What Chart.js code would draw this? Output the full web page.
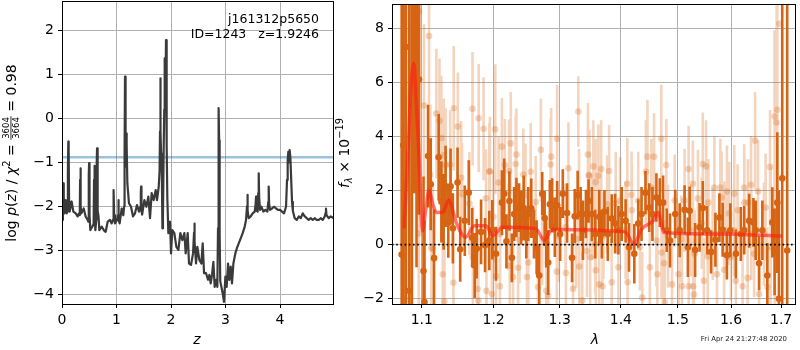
<!DOCTYPE html>
<html>
<head>
<meta charset="utf-8">
<script src="https://cdn.jsdelivr.net/npm/chart.js@4.4.1/dist/chart.umd.min.js"></script>
<style>
  html, body { margin: 0; padding: 0; background: #fff; }
  #wrap { position: relative; width: 800px; height: 350px; }
  #wrap canvas { position: absolute; left: 0; top: 0; }
</style>
</head>
<body>
<div id="wrap">
  <canvas id="pz" width="800" height="350"></canvas>
  <canvas id="spec" width="800" height="350"></canvas>
</div>
<script>
// ---------- redshift probability panel ----------
const zGrid = [0.006,0.016,0.024,0.032,0.043,0.067,0.086,0.100,0.108,0.116,0.122,0.130,0.141,0.177,0.208,0.251,0.287,0.312,0.326,0.332,0.338,0.346,0.355,0.398,0.434,0.471,0.485,0.491,0.497,0.505,0.520,0.557,0.580,0.588,0.594,0.602,0.612,0.630,0.637,0.643,0.650,0.658,0.670,0.685,0.728,0.765,0.801,0.838,0.881,0.911,0.938,0.944,0.949,0.956,0.972,1.009,1.028,1.034,1.042,1.058,1.095,1.125,1.140,1.148,1.156,1.163,1.170,1.178,1.186,1.199,1.229,1.266,1.303,1.339,1.376,1.413,1.440,1.446,1.451,1.458,1.470,1.511,1.547,1.584,1.615,1.645,1.682,1.719,1.743,1.775,1.790,1.798,1.804,1.810,1.818,1.829,1.842,1.852,1.865,1.876,1.884,1.893,1.901,1.908,1.916,1.924,1.932,1.951,1.982,2.000,2.024,2.061,2.098,2.135,2.171,2.208,2.245,2.269,2.306,2.330,2.367,2.404,2.422,2.428,2.436,2.459,2.483,2.520,2.557,2.581,2.606,2.642,2.679,2.704,2.728,2.752,2.777,2.801,2.826,2.850,2.862,2.870,2.876,2.883,2.892,2.903,2.924,2.948,2.972,2.997,3.021,3.046,3.070,3.095,3.119,3.144,3.180,3.217,3.266,3.315,3.352,3.376,3.394,3.401,3.409,3.425,3.462,3.498,3.535,3.552,3.560,3.568,3.590,3.600,3.609,3.617,3.633,3.658,3.694,3.731,3.768,3.785,3.792,3.800,3.817,3.853,3.890,3.927,3.963,4.000,4.037,4.073,4.110,4.128,4.140,4.152,4.165,4.177,4.190,4.205,4.220,4.235,4.269,4.306,4.343,4.380,4.416,4.453,4.490,4.526,4.563,4.600,4.636,4.673,4.710,4.746,4.783,4.820,4.836,4.843,4.852,4.893,4.930,4.990];
const logPz = [-2.31,-1.60,-1.48,-2.10,-2.16,-1.86,-2.16,-2.12,-1.20,-0.53,-0.70,-1.90,-2.12,-1.89,-2.12,-2.16,-2.23,-2.16,-2.20,-1.40,-1.14,-2.00,-2.16,-2.05,-2.23,-2.31,-2.35,-1.30,-1.02,-2.20,-2.54,-2.46,-2.40,-1.40,-1.08,-2.20,-2.54,-2.30,-1.00,-0.68,-1.30,-2.10,-2.23,-2.54,-2.46,-2.54,-2.58,-2.35,-2.31,-2.39,-2.30,-1.80,-1.63,-2.20,-2.39,-2.31,-2.20,-1.86,-2.30,-2.39,-2.05,-2.20,-2.00,-0.80,0.95,-0.60,-1.10,-0.34,-0.60,-1.48,-1.93,-2.01,-2.23,-2.16,-1.97,-2.12,-2.00,-1.70,-1.55,-2.10,-2.19,-1.86,-2.01,-1.78,-2.27,-1.70,-1.86,-1.63,-1.86,-1.55,-1.20,-0.30,0.91,-0.30,-0.80,-0.95,-2.50,-2.30,-0.72,0.20,1.36,0.40,0.90,1.78,1.00,-0.60,-1.80,-2.61,-2.35,-3.07,-2.54,-2.61,-2.92,-2.99,-2.61,-2.77,-2.61,-3.07,-2.61,-3.30,-3.33,-3.07,-2.60,-2.39,-2.80,-3.30,-2.92,-3.22,-3.30,-2.84,-3.52,-3.52,-3.67,-3.56,-3.75,-3.56,-3.26,-3.83,-3.67,-3.83,-2.50,-0.40,0.23,-0.50,-2.60,-3.70,-3.83,-3.98,-4.17,-3.60,-3.83,-3.30,-3.67,-3.37,-3.75,-3.30,-3.07,-2.92,-2.77,-2.61,-2.46,-2.31,-2.00,-1.74,-2.10,-2.27,-2.23,-2.16,-2.12,-1.95,-1.78,-2.10,-2.12,-1.70,-1.25,-1.80,-2.08,-2.01,-2.12,-2.08,-2.12,-1.90,-1.55,-1.95,-2.08,-2.05,-2.01,-2.05,-2.08,-2.08,-2.12,-2.16,-2.01,-1.40,-0.95,-0.76,-1.00,-0.72,-0.90,-1.40,-1.90,-2.10,-2.27,-2.31,-2.23,-2.27,-2.16,-2.23,-2.27,-2.31,-2.27,-2.31,-2.27,-2.31,-2.31,-2.27,-2.31,-2.23,-2.15,-2.05,-2.20,-2.27,-2.23,-2.27];
const chi2Level = -0.886;
const zLimits = [0, 4.99];
const logPLimits = [-4.22, 2.666];
const zTicks = [0, 1, 2, 3, 4];
const logPTicks = [-4, -3, -2, -1, 0, 1, 2];

// ---------- 1D spectrum panel ----------
const darkLam = [1.0735,1.0755,1.0790,1.0833,1.0869,1.0899,1.0930,1.0964,1.1023,1.1036,1.1084,1.1120,1.1164,1.1227,1.1264,1.1295,1.1322,1.1359,1.1390,1.1422,1.1487,1.1524,1.1588,1.1644,1.1692,1.1728,1.1757,1.1819,1.1876,1.1937,1.1981,1.2034,1.2121,1.2155,1.2188,1.2232,1.2268,1.2302,1.2336,1.2376,1.2406,1.2446,1.2485,1.2515,1.2560,1.2601,1.2642,1.2682,1.2728,1.2765,1.2789,1.2820,1.2846,1.2882,1.2924,1.2960,1.3007,1.3049,1.3117,1.3196,1.3239,1.3286,1.3334,1.3371,1.3420,1.3463,1.3517,1.3572,1.3638,1.3681,1.3725,1.3780,1.3846,1.3903,1.3958,1.4014,1.4081,1.4139,1.4230,1.4298,1.4355,1.4424,1.4489,1.4546,1.4616,1.4676,1.4735,1.4800,1.4859,1.4954,1.5034,1.5124,1.5184,1.5216,1.5318,1.5400,1.5461,1.5541,1.5616,1.5699,1.5775,1.5837,1.5919,1.5984,1.6093,1.6190,1.6256,1.6354,1.6439,1.6484,1.6552,1.6618,1.6718,1.6819,1.6866,1.6921,1.6955,1.7023,1.7125];
const darkFlux = [-0.37,3.67,7.30,-1.71,5.16,6.90,5.16,6.10,-0.98,-2.12,3.27,2.23,-0.50,3.23,1.58,1.21,2.15,0.81,2.15,0.60,2.29,-0.17,0.88,1.92,0.25,-0.77,-0.15,0.47,-0.02,0.15,0.55,-0.34,1.55,1.88,0.12,1.61,-0.49,1.13,1.37,1.37,1.00,1.35,0.39,1.13,1.34,0.39,-0.10,-1.14,1.88,0.98,0.05,-0.66,1.49,1.45,0.64,1.45,0.39,1.88,1.17,-0.49,1.05,1.83,1.13,0.53,1.13,1.61,1.13,0.39,1.03,0.39,1.22,0.39,0.96,0.78,0.53,1.13,0.88,-0.10,-0.34,0.78,1.13,1.92,1.37,1.13,1.74,1.55,1.55,0.53,0.15,1.13,0.53,1.29,-0.10,1.25,-0.20,0.64,1.35,0.53,-0.27,0.18,1.00,0.55,-0.39,0.53,-0.34,0.39,0.53,0.88,0.82,0.53,-0.69,0.53,-1.14,0.82,-0.27,1.55,-2.00,2.45,-0.22];
const darkErr = [12,12,12,12,9,5,6,5,3.5,3,1.9,1.7,1.8,1.6,1.5,1.4,1.5,1.3,1.4,1.3,1.3,1.2,1.3,1.2,1.1,1.2,1.1,1.2,1.0,1.1,1.1,1.0,1.2,1.3,1.0,1.1,0.9,1.0,1.1,0.9,1.0,1.2,0.9,1.0,1.1,0.9,1.0,1.1,0.8,1.0,0.9,1.2,0.9,1.0,1.1,0.9,1.0,0.9,1.1,0.9,1.0,0.9,1.0,1.1,0.9,0.8,1.0,0.9,1.0,0.9,0.8,1.0,0.9,1.1,0.9,1.0,0.8,0.9,1.1,0.9,1.0,0.8,0.9,1.0,0.9,0.9,1.0,0.8,1.0,0.9,1.0,0.9,1.1,0.9,1.0,0.9,1.0,0.9,0.8,1.0,0.9,1.0,0.9,1.0,0.9,1.0,0.9,1.0,0.9,1.1,1.0,1.1,1.2,1.3,1.6,2.6,4,12,12];

const faintLam = [1.0766,1.0960,1.0964,1.1029,1.1097,1.1115,1.1128,1.1149,1.1196,1.1238,1.1264,1.1284,1.1297,1.1306,1.1322,1.1385,1.1430,1.1434,1.1491,1.1537,1.1550,1.1653,1.1697,1.1702,1.1768,1.1780,1.1785,1.1855,1.1890,1.1896,1.1937,1.1946,1.1975,1.1997,1.2024,1.2034,1.2072,1.2092,1.2096,1.2121,1.2165,1.2217,1.2227,1.2237,1.2252,1.2286,1.2325,1.2336,1.2361,1.2383,1.2440,1.2473,1.2495,1.2515,1.2551,1.2627,1.2662,1.2707,1.2728,1.2789,1.2820,1.2857,1.2866,1.2955,1.2960,1.2987,1.3092,1.3098,1.3138,1.3212,1.3265,1.3297,1.3308,1.3312,1.3361,1.3437,1.3452,1.3463,1.3478,1.3490,1.3526,1.3541,1.3572,1.3578,1.3581,1.3624,1.3638,1.3670,1.3692,1.3708,1.3770,1.3802,1.3846,1.3913,1.3958,1.3987,1.4081,1.4110,1.4115,1.4183,1.4188,1.4298,1.4327,1.4368,1.4431,1.4458,1.4500,1.4527,1.4575,1.4616,1.4633,1.4703,1.4707,1.4752,1.4763,1.4793,1.4823,1.4895,1.4943,1.5016,1.5063,1.5076,1.5124,1.5197,1.5200,1.5245,1.5276,1.5280,1.5295,1.5309,1.5370,1.5442,1.5461,1.5480,1.5523,1.5554,1.5567,1.5648,1.5680,1.5729,1.5793,1.5818,1.5866,1.5870,1.5919,1.5965,1.5996,1.6058,1.6062,1.6093,1.6126,1.6225,1.6256,1.6260,1.6324,1.6330,1.6391,1.6396,1.6453,1.6472,1.6531,1.6552,1.6650,1.6684,1.6718,1.6773,1.6786,1.6866,1.6870,1.6907,1.6921,1.6962];
const faintFlux = [4.33,0.41,8.61,5.14,7.71,2.57,-0.12,-0.17,4.84,4.58,3.94,-1.10,3.30,-2.10,2.94,2.96,-1.41,5.04,4.36,2.47,1.86,1.52,5.02,-0.47,-1.64,-2.07,4.67,4.28,1.71,-1.71,2.69,2.72,-1.83,1.03,4.26,-1.17,2.29,-1.54,0.39,3.62,2.94,0.64,2.72,-0.77,3.74,-1.20,2.98,3.33,-0.86,0.17,2.59,1.84,-1.20,-0.66,2.69,1.57,-1.57,3.50,0.20,-1.71,-1.88,2.96,3.25,-1.00,3.91,0.31,0.64,-1.05,2.82,-1.63,0.21,4.92,1.84,-0.81,-2.07,-0.24,3.33,2.57,2.54,-0.47,1.03,2.89,0.02,2.31,-0.95,2.54,-1.47,2.79,-1.54,0.33,1.49,2.72,-1.39,1.53,-0.84,1.63,0.53,2.25,-1.39,1.84,1.27,1.63,-0.10,-1.96,2.69,3.25,-0.84,2.11,3.25,0.15,-1.10,3.91,-0.29,-0.69,-2.12,2.94,0.31,-1.47,1.63,-1.10,0.21,-1.54,1.63,2.79,-1.54,0.53,2.25,-1.54,-1.85,-0.34,1.70,0.80,2.98,-1.34,2.89,-0.44,1.55,0.39,2.11,-1.10,2.11,1.74,-0.93,0.53,1.96,1.15,-0.47,0.53,1.88,-1.34,1.27,-1.54,2.11,1.55,-1.23,1.55,2.21,0.39,-0.34,3.84,1.96,-1.83,0.39,1.37,-1.57,2.87,-0.10,4.73,1.22,4.51,4.98,8.16];
const faintErr = [4.5,3.2,3.5,3.0,3.0,2.6,2.5,2.4,2.4,2.3,2.3,2.2,2.1,2.2,2.1,2.0,2.1,2.3,2.0,2.1,1.9,1.9,2.1,1.9,2.0,1.8,2.0,1.9,1.8,1.9,1.8,2.0,1.8,1.7,2.4,1.8,1.7,1.9,1.7,1.8,1.7,1.6,1.9,1.7,1.9,1.6,1.8,1.7,1.8,1.6,1.7,1.9,1.6,1.7,1.8,1.7,1.6,1.9,1.7,1.6,1.8,1.7,1.8,1.6,2.0,1.7,1.6,1.8,1.7,1.6,1.8,1.3,1.7,1.6,1.8,1.7,1.9,1.6,1.7,1.8,1.6,1.7,1.8,1.6,1.7,1.9,1.6,1.8,1.7,1.6,1.8,1.7,1.6,1.9,1.7,1.6,1.8,1.7,1.9,1.6,1.7,1.8,1.6,1.7,1.9,2.1,1.7,1.8,1.6,1.7,1.8,2.0,1.7,1.6,1.8,1.7,1.9,1.6,1.7,1.8,1.6,1.7,1.9,1.6,1.8,1.7,1.6,1.8,1.7,1.6,1.8,1.7,1.9,1.6,1.7,1.8,1.6,1.7,1.9,1.6,1.8,1.7,1.6,1.8,1.7,1.9,1.6,1.7,1.8,1.6,1.7,1.8,1.6,1.7,1.9,1.6,1.8,1.7,1.6,1.8,1.9,1.8,1.9,2.0,2.2,2.1,3.0,3.2,4.0,5.0,6.0];

const modelLam = [1.0766,1.0823,1.0855,1.0895,1.0921,1.0953,1.1009,1.1053,1.1097,1.1147,1.1196,1.1284,1.1366,1.1468,1.1599,1.1725,1.1890,1.1985,1.2130,1.2627,1.2759,1.2881,1.4071,1.4224,1.4355,1.4559,1.4647,1.4752,1.5803,1.7023];
const modelFlux = [0.60,3.70,5.80,6.70,5.50,3.90,0.51,1.30,2.00,1.50,1.19,1.20,1.64,0.82,0.27,0.70,0.70,0.33,0.64,0.59,0.17,0.56,0.47,0.02,0.57,0.88,1.19,0.45,0.39,0.32];

const lamLimits = [1.0610, 1.7309];
const fluxLimits = [-2.195, 8.89];
const lamTicks = [1.1, 1.2, 1.3, 1.4, 1.5, 1.6, 1.7];
const fluxTicks = [-2, 0, 2, 4, 6, 8];

// ---------- shared styling ----------
const FAM = "'DejaVu Sans'";
const ORANGE = 'rgb(214,100,18)';
const ORANGE_FAINT = 'rgba(214,100,18,0.28)';
Chart.defaults.font.family = FAM;

const toPoints = (xs, ys) => xs.map((x, i) => ({ x, y: ys[i] }));
function errorSegments(xs, ys, es) {
  const out = [];
  xs.forEach((x, i) => {
    out.push({ x, y: ys[i] - es[i] }, { x, y: ys[i] + es[i] }, { x, y: null });
  });
  return out;
}
const minusFmt = v => String(v).replace('-', '\u2212');

function axis(type, lim, tickVals, fitSize, isX, fmt) {
  return {
    type, min: lim[0], max: lim[1],
    afterBuildTicks: s => { s.ticks = tickVals.map(v => ({ value: v })); },
    afterFit: s => {
      if (isX) { s.height = fitSize; s.paddingLeft = 0; s.paddingRight = 0; }
      else { s.width = fitSize; s.paddingTop = 0; s.paddingBottom = 0; }
    },
    grid: { color: '#b0b0b0', lineWidth: 1, tickColor: '#000', tickLength: 4, drawTicks: true },
    border: { display: false },
    ticks: { color: '#000', padding: 4, font: { size: 14, family: FAM }, maxRotation: 0, autoSkip: false,
             callback: fmt }
  };
}

const frame = {
  id: 'frame',
  afterDatasetsDraw(chart) {
    const { ctx, chartArea: a } = chart;
    ctx.save();
    ctx.strokeStyle = '#000';
    ctx.lineWidth = 1;
    ctx.strokeRect(a.left + 0.5, a.top + 0.5, a.right - a.left - 1, a.bottom - a.top);
    ctx.restore();
  }
};

// draws a run of text pieces (with optional fraction) rotated along a vertical axis
function drawRotatedRun(ctx, parts, x, yCenter) {
  ctx.save();
  ctx.textBaseline = 'alphabetic';
  ctx.textAlign = 'left';
  const widths = parts.map(p => {
    ctx.font = p.f;
    if (p.frac) return Math.max(ctx.measureText(p.frac[0]).width, ctx.measureText(p.frac[1]).width) + 2;
    return ctx.measureText(p.t).width;
  });
  const total = widths.reduce((a, b) => a + b, 0);
  ctx.translate(x, yCenter);
  ctx.rotate(-Math.PI / 2);
  let cx = -total / 2;
  ctx.fillStyle = '#000';
  parts.forEach((p, i) => {
    ctx.font = p.f;
    if (p.frac) {
      const w = widths[i];
      const bar = -4.6;
      const nw = ctx.measureText(p.frac[0]).width;
      const dw = ctx.measureText(p.frac[1]).width;
      ctx.fillText(p.frac[0], cx + (w - nw) / 2, bar - 1.6);
      ctx.fillText(p.frac[1], cx + (w - dw) / 2, bar + 8.2);
      ctx.fillRect(cx, bar - 0.35, w, 0.8);
    } else {
      ctx.fillText(p.t, cx, p.dy || 0);
    }
    cx += widths[i];
  });
  ctx.restore();
}

// ---------- left chart: log p(z) ----------
const pzText = {
  id: 'pzText',
  afterDraw(chart) {
    const { ctx } = chart;
    ctx.save();
    ctx.fillStyle = '#000';
    ctx.font = `12.5px ${FAM}`;
    ctx.textAlign = 'right';
    ctx.textBaseline = 'middle';
    ctx.fillText('j161312p5650', 319, 20);
    ctx.fillText('ID=1243   z=1.9246', 319, 35);
    ctx.font = `italic 14px ${FAM}`;
    ctx.textAlign = 'center';
    ctx.fillText('z', 197, 340);
    ctx.restore();
    drawRotatedRun(ctx, [
      { t: 'log ', f: `14px ${FAM}` },
      { t: 'p', f: `italic 14px ${FAM}` },
      { t: '(', f: `14px ${FAM}` },
      { t: 'z', f: `italic 14px ${FAM}` },
      { t: ') / ', f: `14px ${FAM}` },
      { t: 'χ', f: `italic 14px ${FAM}` },
      { t: '2', f: `10px ${FAM}`, dy: -5.8 },
      { t: ' = ', f: `14px ${FAM}` },
      { frac: ['3604', '3664'], f: `8.5px ${FAM}` },
      { t: ' = 0.98', f: `14px ${FAM}` }
    ], 15.5, 153);
  }
};

new Chart(document.getElementById('pz'), {
  type: 'line',
  data: {
    datasets: [
      { data: toPoints(zGrid, logPz), borderColor: '#3a3a3a', borderWidth: 2.2, pointRadius: 0,
        borderJoinStyle: 'round', clip: 0, order: 0 },
      { data: toPoints(zLimits, [chi2Level, chi2Level]), borderColor: 'rgba(31,119,180,0.45)',
        borderWidth: 2.6, pointRadius: 0, clip: 0, order: 1 }
    ]
  },
  options: {
    responsive: false, animation: false, events: [],
    layout: { padding: { left: 0, top: 1, right: 466, bottom: 0 } },
    plugins: { legend: { display: false }, tooltip: { enabled: false } },
    scales: {
      x: axis('linear', zLimits, zTicks, 46, true, v => minusFmt(v)),
      y: axis('linear', logPLimits, logPTicks, 62, false, v => minusFmt(v))
    }
  },
  plugins: [frame, pzText]
});

// ---------- right chart: spectrum ----------
const specText = {
  id: 'specText',
  afterDraw(chart) {
    const { ctx } = chart;
    ctx.save();
    ctx.fillStyle = '#000';
    ctx.font = `italic 14px ${FAM}`;
    ctx.textAlign = 'center';
    ctx.textBaseline = 'middle';
    ctx.fillText('λ', 595, 340);
    ctx.font = `6.9px ${FAM}`;
    ctx.textAlign = 'right';
    ctx.fillStyle = '#222';
    ctx.fillText('Fri Apr 24 21:27:48 2020', 787, 339);
    ctx.restore();
    drawRotatedRun(ctx, [
      { t: 'f', f: `italic 14px ${FAM}` },
      { t: 'λ', f: `italic 9.8px ${FAM}`, dy: 3 },
      { t: ' × 10', f: `14px ${FAM}` },
      { t: '−19', f: `9.8px ${FAM}`, dy: -6 }
    ], 349, 153);
  }
};

new Chart(document.getElementById('spec'), {
  type: 'line',
  data: {
    datasets: [
      { data: toPoints(lamLimits, [0, 0]), borderColor: '#000', borderWidth: 1.8, borderDash: [1.6, 2.6],
        pointRadius: 0, clip: 0, order: 0 },
      { data: toPoints(modelLam, modelFlux), borderColor: 'rgba(255,30,20,0.62)', borderWidth: 3.5,
        pointRadius: 0, cubicInterpolationMode: 'monotone', clip: 0, order: 1 },
      { data: toPoints(darkLam, darkFlux), showLine: false, pointRadius: 3.3, pointBorderWidth: 0,
        pointBackgroundColor: ORANGE, clip: 0, order: 2 },
      { data: errorSegments(darkLam, darkFlux, darkErr), borderColor: ORANGE, borderWidth: 2.6,
        pointRadius: 0, spanGaps: false, clip: 0, order: 3 },
      { data: toPoints(faintLam, faintFlux), showLine: false, pointRadius: 3.3, pointBorderWidth: 0,
        pointBackgroundColor: ORANGE_FAINT, clip: 0, order: 4 },
      { data: errorSegments(faintLam, faintFlux, faintErr), borderColor: ORANGE_FAINT, borderWidth: 2.6,
        pointRadius: 0, spanGaps: false, clip: 0, order: 5 }
    ]
  },
  options: {
    responsive: false, animation: false, events: [],
    layout: { padding: { left: 330, top: 1, right: 1, bottom: 0 } },
    plugins: { legend: { display: false }, tooltip: { enabled: false } },
    scales: {
      x: axis('logarithmic', lamLimits, lamTicks, 46, true, v => Number(v).toFixed(1)),
      y: axis('linear', fluxLimits, fluxTicks, 62, false, v => minusFmt(v))
    }
  },
  plugins: [frame, specText]
});
</script>
</body>
</html>
